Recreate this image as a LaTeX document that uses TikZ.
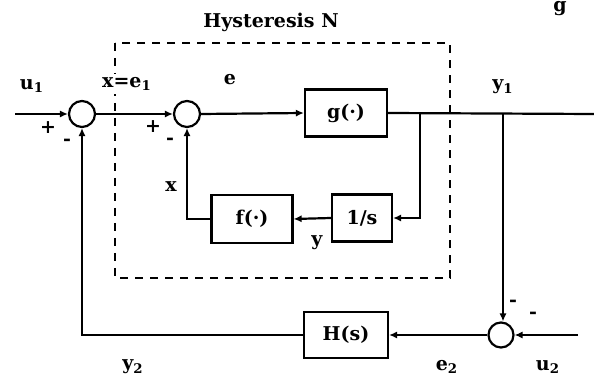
\documentclass[tikz,border=0pt]{standalone}
\usepackage{fontspec}
\setmainfont{DejaVu Serif}
\usetikzlibrary{arrows.meta}
\begin{document}
\begin{tikzpicture}[x=0.5pt,y=-0.5pt,
  every node/.style={font=\bfseries\fontsize{9.5}{11}\selectfont},
  sumj/.style={draw,circle,line width=1.1pt,minimum size=13pt,inner sep=0pt},
  blk/.style={draw,rectangle,line width=1.1pt,inner sep=0pt},
  wire/.style={line width=1.1pt},
  arr/.style={wire,-{Latex[length=4pt,width=3.6pt]}},
  hyst/.style={line width=1.1pt,dash pattern=on 4pt off 3.5pt},
  lbl/.style={inner sep=0pt}]
\useasboundingbox (0,0) rectangle (594,379);
% dashed hysteresis box
\draw[hyst] (115,43) rectangle (450,278);
% summing junctions
\node[sumj] (s1) at (82,114) {};
\node[sumj] (s2) at (187,114) {};
\node[sumj,minimum size=12.5pt] (s3) at (501,335) {};
% blocks
\node[blk,minimum width=41pt,minimum height=23.5pt] (g) at (346,113) {g(·)};
\node[blk,minimum width=30pt,minimum height=23.5pt] (int) at (362,218) {1/s};
\node[blk,minimum width=40.5pt,minimum height=24pt] (f) at (252,219) {f(·)};
\node[blk,minimum width=42pt,minimum height=23pt] (H) at (346,335) {H(s)};
% coordinates
\coordinate (in) at (15,114);
\coordinate (out) at (594,114);
\coordinate (b1) at (420,114);
\coordinate (b2) at (503,114);
\coordinate (u2in) at (578,335);
% connectors
\draw[arr] (in) -- (s1.west);
\draw[arr] (s1.east) -- (s2.west);
\draw[arr] (s2.east) -- (g.west);
\draw[wire] (g.east) -- (out);
\draw[arr] (b1) |- (int.east);
\draw[arr] (int.west) -- (f.east);
\draw[arr] (f.west) -| (s2.south);
\draw[arr] (b2) -- (b2 |- s3.north);
\draw[arr] (u2in) -- (s3.east);
\draw[arr] (s3.west) -- (H.east);
\draw[arr] (H.west) -| (s1.south);
% labels
\node[lbl] (title) at (271,22) {Hysteresis N};
\node[lbl] (lu1) at (32,86) {u\textsubscript{1}};
\node[lbl,fill=white,inner sep=1.5pt] (lx) at (127,84) {x=e\textsubscript{1}};
\node[lbl] (le) at (230,80) {e};
\node[lbl] (ly1) at (503,87) {y\textsubscript{1}};
\node[lbl] (lxx) at (171,187) {x};
\node[lbl] (ly) at (317,243) {y};
\node[lbl] (ly2) at (133,367) {y\textsubscript{2}};
\node[lbl] (le2) at (447,367) {e\textsubscript{2}};
\node[lbl] (lu2) at (548,367) {u\textsubscript{2}};
\node[lbl] (p1) at (48,128) {+};
\node[lbl] (m1) at (67,142) {-};
\node[lbl] (p2) at (153,127) {+};
\node[lbl] (m2) at (170,141) {-};
\node[lbl] (m3) at (513,303) {-};
\node[lbl] (m4) at (533,315) {-};
\node[lbl,anchor=north] (gg) at (560,1) {g};
\end{tikzpicture}
\end{document}
